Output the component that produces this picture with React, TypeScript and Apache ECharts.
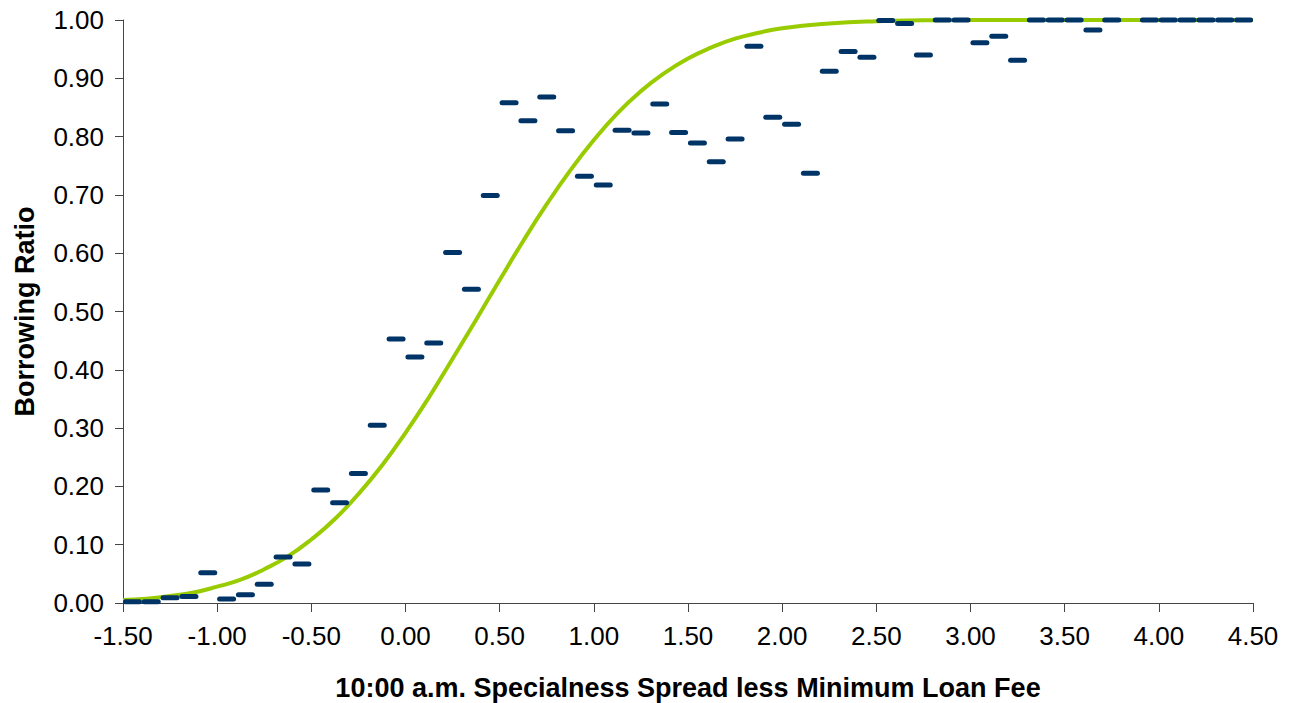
import React, { useEffect, useRef } from "react";
import * as echarts from "echarts";

// Observed borrowing ratios (bin centres on the x axis)
const binX: number[] = [
  -1.45, -1.35, -1.25, -1.15, -1.05, -0.95, -0.85, -0.75, -0.65, -0.55,
  -0.45, -0.35, -0.25, -0.15, -0.05, 0.05, 0.15, 0.25, 0.35, 0.45,
  0.55, 0.65, 0.75, 0.85, 0.95, 1.05, 1.15, 1.25, 1.35, 1.45,
  1.55, 1.65, 1.75, 1.85, 1.95, 2.05, 2.15, 2.25, 2.35, 2.45,
  2.55, 2.65, 2.75, 2.85, 2.95, 3.05, 3.15, 3.25, 3.35, 3.45,
  3.55, 3.65, 3.75, 3.95, 4.05, 4.15, 4.25, 4.35, 4.45,
];
const binRatio: number[] = [
  0.002, 0.002, 0.009, 0.011, 0.052, 0.007, 0.014, 0.032, 0.079, 0.067,
  0.194, 0.172, 0.222, 0.305, 0.453, 0.422, 0.446, 0.601, 0.538, 0.699,
  0.858, 0.827, 0.868, 0.81, 0.732, 0.717, 0.811, 0.806, 0.856, 0.807,
  0.789, 0.757, 0.796, 0.955, 0.833, 0.821, 0.737, 0.912, 0.946, 0.936,
  0.999, 0.994, 0.94, 1.0, 1.0, 0.961, 0.972, 0.931, 1.0, 1.0,
  1.0, 0.983, 1.0, 1.0, 1.0, 1.0, 1.0, 1.0, 1.0,
];

// Fitted curve
const fitX: number[] = [
  -1.5, -1.375, -1.25, -1.125, -1.0, -0.875, -0.75, -0.625, -0.5, -0.375,
  -0.25, -0.125, 0.0, 0.125, 0.25, 0.375, 0.5, 0.625, 0.75, 0.875,
  1.0, 1.125, 1.25, 1.375, 1.5, 1.625, 1.75, 1.875, 2.0, 2.25,
  2.5, 2.75, 3.0, 3.5, 4.0, 4.5,
];
const fitY: number[] = [
  0.005, 0.0075, 0.012, 0.018, 0.028, 0.040, 0.058, 0.080, 0.109, 0.144,
  0.187, 0.236, 0.292, 0.353, 0.419, 0.486, 0.554, 0.621, 0.684, 0.742,
  0.794, 0.840, 0.878, 0.909, 0.934, 0.953, 0.968, 0.978, 0.986, 0.994,
  0.998, 0.9994, 1.0, 1.0, 1.0, 1.0,
];

const xTitle = "10:00 a.m. Specialness Spread less Minimum Loan Fee";
const yTitle = "Borrowing Ratio";

const FONT = "'Liberation Sans', Arial, sans-serif";
const DASH = "path://M2.5,0 L16.5,0 A2.5,2.5 0 0 1 16.5,5 L2.5,5 A2.5,2.5 0 0 1 2.5,0 Z";

export default function App() {
  const ref = useRef<HTMLDivElement>(null);

  useEffect(() => {
    document.body.style.margin = "0";
    if (!ref.current) return;
    const chart = echarts.init(ref.current, null, { renderer: "svg" });
    const axisLineStyle = { color: "#444", width: 1 };
    chart.setOption({
      animation: false,
      backgroundColor: "#fff",
      grid: {
        left: 123,
        right: 39,
        top: 20,
        bottom: 100,
        containLabel: false,
        outerBoundsMode: "none",
      },
      xAxis: {
        type: "value",
        min: -1.5,
        max: 4.5,
        interval: 0.5,
        axisLine: { show: true, onZero: false, lineStyle: axisLineStyle },
        axisTick: { show: true, length: 9, lineStyle: axisLineStyle },
        splitLine: { show: false },
        axisLabel: {
          margin: 20,
          color: "#000",
          fontSize: 26,
          fontFamily: FONT,
          formatter: (v: number) => v.toFixed(2),
        },
        name: xTitle,
        nameLocation: "middle",
        nameGap: 71,
        nameTextStyle: { color: "#000", fontSize: 27, fontWeight: "bold", fontFamily: FONT },
      },
      yAxis: {
        type: "value",
        min: 0,
        max: 1,
        interval: 0.1,
        axisLine: { show: true, onZero: false, lineStyle: axisLineStyle },
        axisTick: { show: true, length: 8, lineStyle: axisLineStyle },
        splitLine: { show: false },
        axisLabel: {
          margin: 19,
          color: "#000",
          fontSize: 26,
          fontFamily: FONT,
          formatter: (v: number) => v.toFixed(2),
        },
        name: yTitle,
        nameLocation: "middle",
        nameGap: 85,
        nameTextStyle: { color: "#000", fontSize: 27, fontWeight: "bold", fontFamily: FONT },
      },
      series: [
        {
          type: "line",
          data: fitX.map((x, i) => [x, fitY[i]]),
          smooth: true,
          showSymbol: false,
          symbol: "none",
          lineStyle: { color: "#99cc00", width: 4 },
          z: 2,
        },
        {
          type: "scatter",
          data: binX.map((x, i) => [x, binRatio[i]]),
          symbol: DASH,
          symbolSize: [19, 5],
          itemStyle: { color: "#003366", opacity: 1 },
          z: 3,
        },
      ],
    });
    return () => chart.dispose();
  }, []);

  return <div ref={ref} style={{ width: 1292, height: 703 }} />;
}
